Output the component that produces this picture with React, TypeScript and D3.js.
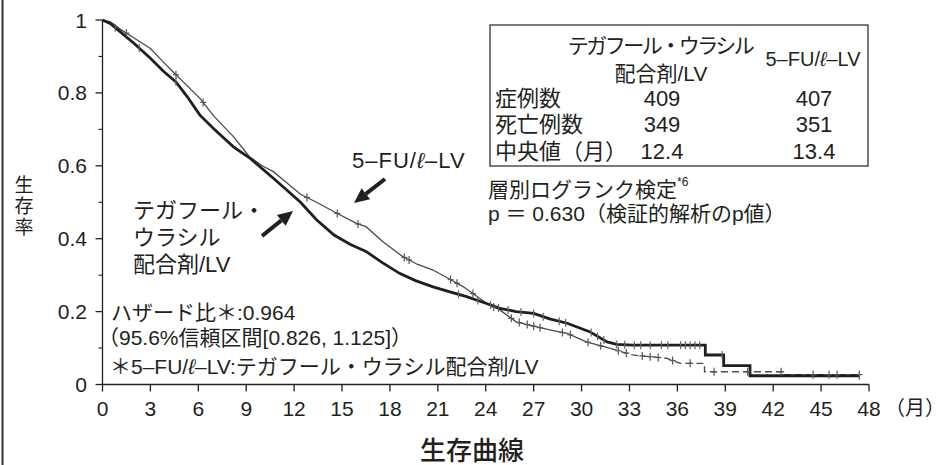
import React from "react";
import * as d3 from "d3";

// axis ticks
const xTicks = [0, 3, 6, 9, 12, 15, 18, 21, 24, 27, 30, 33, 36, 39, 42, 45, 48];
const yTicks = [0, 0.2, 0.4, 0.6, 0.8, 1];
const yTickLabels = ["0", "0.2", "0.4", "0.6", "0.8", "1"];
const yMinorTicks = [0.1, 0.3, 0.5, 0.7, 0.9];

// テガフール・ウラシル配合剤/LV (thick curve)
const tuTime = [0, 0.5, 1.1, 2.0, 3.0, 3.8, 4.6, 5.3, 6.1, 7.0, 8.2, 9.2, 10.7, 11.5, 12.4, 13.4, 14.5, 15.5, 16.5, 17.5, 18.6, 19.6, 20.7, 21.7, 22.8, 24.0, 24.9, 25.9, 27.0, 28.0, 29.1, 30.5, 31.6, 32.2, 33.2, 37.75, 37.75, 38.9, 38.9, 40.55, 40.55, 47.4];
const tuSurv = [1, 0.99, 0.968, 0.935, 0.895, 0.86, 0.83, 0.79, 0.739, 0.7, 0.652, 0.622, 0.566, 0.535, 0.5, 0.452, 0.41, 0.385, 0.365, 0.335, 0.305, 0.285, 0.268, 0.255, 0.241, 0.223, 0.209, 0.2, 0.195, 0.18, 0.168, 0.145, 0.117, 0.11, 0.108, 0.108, 0.081, 0.081, 0.052, 0.052, 0.024, 0.024];
const tuCensor = [0.8, 2.3, 4.6, 22.3, 23.5, 24.3, 24.8, 25.4, 26.2, 27.0, 27.6, 28.6, 29.0, 30.6, 31.0, 31.4, 32.2, 32.7, 33.3, 33.7, 34.3, 35.0, 35.4, 36.2, 36.5, 36.8, 37.1, 37.4, 38.8, 47.4];

// 5-FU/l-LV (thin curve)
const fuTime = [0, 0.5, 1.1, 2.0, 3.0, 3.8, 4.6, 5.3, 6.1, 7.0, 8.2, 9.2, 10.0, 10.7, 11.5, 12.4, 13.4, 14.5, 15.9, 16.5, 17.6, 18.8, 19.7, 20.7, 21.7, 22.6, 24.05, 24.9, 25.9, 27.0, 28.0, 29.1, 30.3, 31.8, 33.2, 35.3, 36.2, 37.7, 37.7, 42.6, 42.6, 47.4];
const fuSurv = [1, 0.995, 0.975, 0.95, 0.922, 0.885, 0.85, 0.82, 0.785, 0.735, 0.68, 0.625, 0.6, 0.584, 0.555, 0.522, 0.5, 0.474, 0.442, 0.433, 0.39, 0.351, 0.33, 0.314, 0.29, 0.268, 0.223, 0.204, 0.172, 0.16, 0.15, 0.14, 0.117, 0.099, 0.081, 0.072, 0.058, 0.058, 0.035, 0.035, 0.027, 0.027];
const fuCensor = [1.5, 4.6, 6.3, 12.8, 14.7, 16.0, 18.9, 19.2, 21.8, 22.2, 23.2, 24.5, 25.6, 26.1, 26.6, 27.0, 27.4, 28.8, 29.3, 30.4, 31.2, 32.3, 32.8, 33.8, 34.3, 34.8, 35.7, 36.8, 38.3, 40.4, 42.5, 44.5, 45.5, 46.0, 47.4];
const fuDashFrom = 31.8;

// summary table
const tableRows = ["症例数", "死亡例数", "中央値（月）"];
const tuStats = ["409", "349", "12.4"];
const fuStats = ["407", "351", "13.4"];

const FONT = "'Liberation Sans', 'Noto Sans CJK JP', sans-serif";
const INK = "#231f20";

function survAt(times: number[], surv: number[], t: number) {
  for (let i = 1; i < times.length; i++) {
    if (t <= times[i]) {
      const t0 = times[i - 1], t1 = times[i];
      if (t1 === t0) return surv[i];
      return surv[i - 1] + ((surv[i] - surv[i - 1]) * (t - t0)) / (t1 - t0);
    }
  }
  return surv[surv.length - 1];
}

function Arrow({ x1, y1, x2, y2 }: { x1: number; y1: number; x2: number; y2: number }) {
  const a = Math.atan2(y2 - y1, x2 - x1);
  const len = 15, w = 7;
  const bx = x2 - len * Math.cos(a), by = y2 - len * Math.sin(a);
  const p1 = [bx + w * Math.sin(a), by - w * Math.cos(a)];
  const p2 = [bx - w * Math.sin(a), by + w * Math.cos(a)];
  return (
    <g>
      <line x1={x1} y1={y1} x2={bx} y2={by} stroke={INK} strokeWidth={4} />
      <polygon points={`${x2},${y2} ${p1.join(",")} ${p2.join(",")}`} fill={INK} />
    </g>
  );
}

const FuLabel = () => (
  <>
    5–FU/<tspan fontStyle="italic">ℓ</tspan>–LV
  </>
);

export default function App() {
  const width = 944, height = 465;
  const x = d3.scaleLinear().domain([0, 48]).range([102.5, 869]);
  const y = d3.scaleLinear().domain([0, 1]).range([384.5, 20]);

  const line = d3
    .line<[number, number]>()
    .x(d => x(d[0]))
    .y(d => y(d[1]));

  const tuPts = tuTime.map((t, i) => [t, tuSurv[i]] as [number, number]);
  const fuPts = fuTime.map((t, i) => [t, fuSurv[i]] as [number, number]);
  const fuSolid = fuPts.filter(d => d[0] <= fuDashFrom);
  const fuDashed = fuPts.filter(d => d[0] >= fuDashFrom);

  return (
    <svg
      width={width}
      height={height}
      style={{ position: "absolute", left: 0, top: 0, background: "#fff" }}
      fontFamily={FONT}
      fill={INK}
    >
      {/* frame line on the left */}
      <line x1={2.5} y1={0} x2={2.5} y2={height} stroke="#333" strokeWidth={2} />

      {/* y axis */}
      <line x1={x(0)} y1={y(1)} x2={x(0)} y2={y(0)} stroke={INK} strokeWidth={1.3} />
      {yTicks.map((v, i) => (
        <g key={v}>
          <line x1={x(0) - 7} x2={x(0)} y1={y(v)} y2={y(v)} stroke={INK} strokeWidth={1.3} />
          <text x={87} y={y(v)} textAnchor="end" dominantBaseline="central" fontSize={21}>
            {yTickLabels[i]}
          </text>
        </g>
      ))}
      {yMinorTicks.map(v => (
        <line key={v} x1={x(0) - 4} x2={x(0)} y1={y(v)} y2={y(v)} stroke={INK} strokeWidth={1.1} />
      ))}
      {["生", "存", "率"].map((c, i) => (
        <text key={c} x={24} y={185 + i * 21} textAnchor="middle" dominantBaseline="central" fontSize={19}>
          {c}
        </text>
      ))}

      {/* x axis */}
      <line x1={x(0)} y1={y(0)} x2={x(48)} y2={y(0)} stroke={INK} strokeWidth={1.3} />
      {xTicks.map(v => (
        <g key={v}>
          <line x1={x(v)} x2={x(v)} y1={y(0)} y2={y(0) + 7} stroke={INK} strokeWidth={1.3} />
          <text x={x(v)} y={408} textAnchor="middle" dominantBaseline="central" fontSize={21}>
            {v}
          </text>
        </g>
      ))}
      <text x={885} y={408} dominantBaseline="central" fontSize={20}>
        （月）
      </text>
      <text x={472} y={451} textAnchor="middle" dominantBaseline="central" fontSize={26} fontWeight={500}>
        生存曲線
      </text>

      {/* survival curves */}
      <path d={line(fuSolid) ?? ""} fill="none" stroke="#4a4a4a" strokeWidth={1.3} />
      <path d={line(fuDashed) ?? ""} fill="none" stroke="#4a4a4a" strokeWidth={1.3} strokeDasharray="7,4" />
      <path d={line(tuPts) ?? ""} fill="none" stroke="#1f1f1f" strokeWidth={2.8} />
      {fuCensor.map((t, i) => {
        const cy = y(survAt(fuTime, fuSurv, t));
        return (
          <g key={"f" + i} stroke="#555" strokeWidth={1.2}>
            <line x1={x(t)} x2={x(t)} y1={cy - 4} y2={cy + 4} />
            <line x1={x(t) - 3} x2={x(t) + 3} y1={cy} y2={cy} />
          </g>
        );
      })}
      {tuCensor.map((t, i) => {
        const cy = y(survAt(tuTime, tuSurv, t));
        return (
          <g key={"t" + i} stroke="#666" strokeWidth={1.2}>
            <line x1={x(t)} x2={x(t)} y1={cy - 4} y2={cy + 4} />
          </g>
        );
      })}

      {/* curve labels */}
      <text x={133} fontSize={22} dominantBaseline="central">
        <tspan x={133} y={210}>テガフール・</tspan>
        <tspan x={133} y={237}>ウラシル</tspan>
        <tspan x={133} y={264}>配合剤/LV</tspan>
      </text>
      <Arrow x1={262} y1={236} x2={293} y2={211} />
      <text x={352} y={160} fontSize={22} dominantBaseline="central" letterSpacing={1}>
        <FuLabel />
      </text>
      <Arrow x1={385} y1={179} x2={354} y2={203} />

      {/* hazard ratio */}
      <text fontSize={21} dominantBaseline="central">
        <tspan x={111} y={312}>ハザード比＊:0.964</tspan>
        <tspan x={98} y={337}>（95.6%信頼区間[0.826, 1.125]）</tspan>
        <tspan x={110} y={366}>
          ＊5–FU/<tspan fontStyle="italic">ℓ</tspan>–LV:テガフール・ウラシル配合剤/LV
        </tspan>
      </text>

      {/* summary table */}
      <rect x={490} y={25} width={378} height={141} fill="none" stroke="#333" strokeWidth={1.3} />
      <text x={660} y={45} textAnchor="middle" dominantBaseline="central" fontSize={21} letterSpacing={-2.5}>
        テガフール・ウラシル
      </text>
      <text x={661} y={73} textAnchor="middle" dominantBaseline="central" fontSize={21}>
        配合剤/LV
      </text>
      <text x={813} y={59} textAnchor="middle" dominantBaseline="central" fontSize={20}>
        <FuLabel />
      </text>
      {tableRows.map((r, i) => (
        <g key={r}>
          <text x={495} y={98 + i * 26.5} dominantBaseline="central" fontSize={22}>
            {r}
          </text>
          <text x={662} y={98 + i * 26.5} textAnchor="middle" dominantBaseline="central" fontSize={22}>
            {tuStats[i]}
          </text>
          <text x={814} y={98 + i * 26.5} textAnchor="middle" dominantBaseline="central" fontSize={22}>
            {fuStats[i]}
          </text>
        </g>
      ))}

      {/* log-rank test */}
      <text x={488} y={189} dominantBaseline="central" fontSize={21}>
        層別ログランク検定
        <tspan fontSize={12} dy={-7}>*6</tspan>
      </text>
      <text x={488} y={213} dominantBaseline="central" fontSize={21}>
        p ＝ 0.630（検証的解析のp値）
      </text>
    </svg>
  );
}
